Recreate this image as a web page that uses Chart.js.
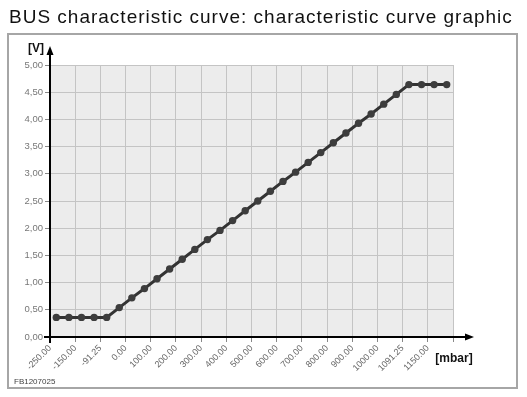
<!DOCTYPE html>
<html><head><meta charset="utf-8">
<script src="https://cdn.jsdelivr.net/npm/chart.js@4/dist/chart.umd.min.js"></script>
<style>html,body{margin:0;padding:0;background:#fff}#wrap{width:527px;height:397px;position:relative}</style>
</head><body><div id="wrap"><canvas id="c"></canvas></div>
<script>
const titleText = 'BUS characteristic curve: characteristic curve graphic';
const xTickLabels = ['-250.00','-150.00','-91.25','0.00','100.00','200.00','300.00','400.00','500.00','600.00','700.00','800.00','900.00','1000.00','1091.25','1150.00'];
const voltage = [0.36,0.36,0.36,0.36,0.36,0.54,0.72,0.89,1.07,1.25,1.43,1.61,1.79,1.96,2.14,2.32,2.50,2.68,2.86,3.03,3.21,3.39,3.57,3.75,3.93,4.10,4.28,4.46,4.64,4.64,4.64,4.64];
const yUnit = '[V]';
const xUnit = '[mbar]';
const figId = 'FB1207025';

const points = voltage.map((v, i) => ({x: (i + 0.5) / 2, y: v}));

const deco = {
  id: 'deco',
  beforeDraw(chart) {
    const ctx = chart.ctx, a = chart.chartArea;
    ctx.save();
    ctx.fillStyle = '#fff';
    ctx.fillRect(0, 0, chart.width, chart.height);
    ctx.strokeStyle = '#a6a6a6';
    ctx.lineWidth = 2;
    ctx.strokeRect(8, 34, 509, 354);
    ctx.fillStyle = '#ececec';
    ctx.fillRect(a.left, a.top, a.right - a.left, a.bottom - a.top);
    ctx.fillStyle = '#111';
    ctx.font = '19px "Liberation Sans", Arial, sans-serif';
    ctx.letterSpacing = '1px';
    ctx.textBaseline = 'alphabetic';
    ctx.textAlign = 'left';
    ctx.fillText(titleText, 9, 23);
    ctx.letterSpacing = '0px';
    ctx.restore();
  },
  afterDraw(chart) {
    const ctx = chart.ctx, a = chart.chartArea;
    ctx.save();
    ctx.strokeStyle = '#000';
    ctx.fillStyle = '#000';
    ctx.lineWidth = 2;
    ctx.beginPath();
    ctx.moveTo(a.left, a.bottom + 6);
    ctx.lineTo(a.left, 52);
    ctx.stroke();
    ctx.beginPath();
    ctx.moveTo(a.left, 46);
    ctx.lineTo(a.left - 3.5, 55);
    ctx.lineTo(a.left + 3.5, 55);
    ctx.closePath();
    ctx.fill();
    ctx.beginPath();
    ctx.moveTo(a.left - 6, a.bottom);
    ctx.lineTo(468, a.bottom);
    ctx.stroke();
    ctx.beginPath();
    ctx.moveTo(474, a.bottom);
    ctx.lineTo(465, a.bottom - 3.5);
    ctx.lineTo(465, a.bottom + 3.5);
    ctx.closePath();
    ctx.fill();
    ctx.font = 'bold 12px "Liberation Sans", Arial, sans-serif';
    ctx.textAlign = 'center';
    ctx.textBaseline = 'middle';
    ctx.fillStyle = '#111';
    ctx.fillText(yUnit, 36, 49);
    ctx.fillText(xUnit, 454, 359);
    ctx.font = '8px "Liberation Sans", Arial, sans-serif';
    ctx.textAlign = 'left';
    ctx.fillStyle = '#444';
    ctx.fillText(figId, 14, 382);
    ctx.restore();
  }
};

new Chart(document.getElementById('c'), {
  type: 'line',
  data: {
    datasets: [{
      data: points,
      borderColor: '#333',
      borderWidth: 3,
      pointRadius: 3.7,
      pointBackgroundColor: '#3d3d3d',
      pointBorderColor: '#3d3d3d',
      pointBorderWidth: 0,
      tension: 0,
      clip: false
    }]
  },
  options: {
    responsive: true,
    maintainAspectRatio: false,
    animation: false,
    events: [],
    layout: {padding: {left: 0, right: 74, top: 65, bottom: 0}},
    plugins: {legend: {display: false}, tooltip: {enabled: false}},
    scales: {
      x: {
        type: 'linear', min: 0, max: 16,
        afterFit(s) { s.height = 60; },
        afterBuildTicks(s) { s.ticks = []; for (let i = 0; i <= 16; i++) s.ticks.push({value: i}); },
        grid: {color: '#c4c4c4', lineWidth: 1, tickLength: 5, tickColor: '#888'},
        border: {display: false},
        ticks: {
          autoSkip: false, minRotation: 45, maxRotation: 45, padding: 1,
          color: '#666', font: {family: '"Liberation Sans", Arial, sans-serif', size: 9},
          callback: v => xTickLabels[v] ?? ''
        }
      },
      y: {
        min: 0, max: 5,
        afterFit(s) { s.width = 50; },
        grid: {color: '#c4c4c4', lineWidth: 1, tickLength: 5, tickColor: '#888'},
        border: {display: false},
        ticks: {
          stepSize: 0.5, padding: 2,
          color: '#777', font: {family: '"Liberation Sans", Arial, sans-serif', size: 9.5},
          callback: v => v.toFixed(2).replace('.', ',')
        }
      }
    }
  },
  plugins: [deco]
});
</script>
</body></html>
